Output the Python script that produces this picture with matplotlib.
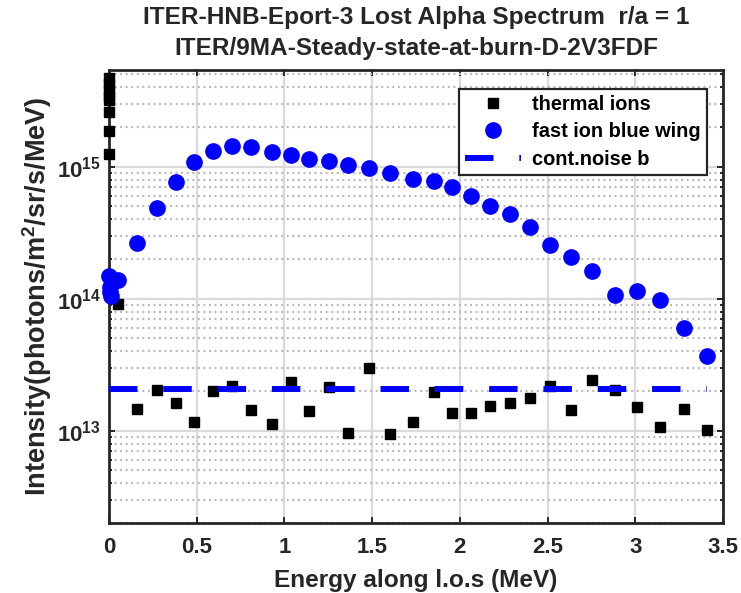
import matplotlib
matplotlib.use("Agg")
import matplotlib.pyplot as plt
from matplotlib.ticker import LogLocator, NullFormatter, FixedLocator, FixedFormatter

# ---------------- data ----------------
energy_grid = [0.053, 0.157, 0.271, 0.381, 0.485, 0.593, 0.701, 0.811, 0.928, 1.036,
               1.142, 1.252, 1.365, 1.483, 1.604, 1.735, 1.851, 1.953, 2.063, 2.174,
               2.284, 2.398, 2.515, 2.631, 2.754, 2.882, 3.011, 3.140, 3.277, 3.411]

thermal_zero_energy = [0, 0, 0, 0, 0, 0, 0, 0]
thermal_zero_vals = [4.70e15, 4.23e15, 3.81e15, 3.43e15, 3.20e15, 2.60e15, 1.86e15, 1.25e15]
thermal_vals = [9.1e13, 1.45e13, 2.03e13, 1.61e13, 1.17e13, 1.99e13, 2.18e13, 1.44e13, 1.12e13, 2.35e13,
                1.40e13, 2.13e13, 9.66e12, 2.97e13, 9.44e12, 1.17e13, 1.95e13, 1.37e13, 1.37e13, 1.55e13,
                1.63e13, 1.77e13, 2.18e13, 1.43e13, 2.42e13, 2.03e13, 1.51e13, 1.06e13, 1.45e13, 1.01e13]

fast_zero_energy = [0.0, 0.003, 0.006, 0.010]
fast_zero_vals = [1.49e14, 1.23e14, 1.12e14, 1.05e14]
fast_vals = [1.39e14, 2.63e14, 4.84e14, 7.62e14, 1.09e15, 1.32e15, 1.44e15, 1.40e15, 1.30e15, 1.22e15,
             1.14e15, 1.11e15, 1.03e15, 9.8e14, 8.9e14, 8.07e14, 7.8e14, 6.98e14, 6.0e14, 5.0e14,
             4.36e14, 3.51e14, 2.56e14, 2.06e14, 1.63e14, 1.07e14, 1.14e14, 9.7e13, 5.97e13, 3.7e13]

noise_energy = [0.0, 3.411]
noise_vals = [2.07e13, 2.07e13]

x_ticks = [0, 0.5, 1, 1.5, 2, 2.5, 3, 3.5]
x_ticklabels = ["0", "0.5", "1", "1.5", "2", "2.5", "3", "3.5"]
y_ticks = [1e13, 1e14, 1e15]
y_ticklabels = [r"$10^{13}$", r"$10^{14}$", r"$10^{15}$"]

title_line1 = "ITER-HNB-Eport-3 Lost Alpha Spectrum  r/a = 1"
title_line2 = "ITER/9MA-Steady-state-at-burn-D-2V3FDF"

# ---------------- style ----------------
plt.rcParams["font.family"] = ["Liberation Sans", "DejaVu Sans"]
plt.rcParams["font.weight"] = "bold"
plt.rcParams["mathtext.fontset"] = "custom"
plt.rcParams["mathtext.rm"] = "Liberation Sans:bold"
plt.rcParams["mathtext.bf"] = "Liberation Sans:bold"
plt.rcParams["mathtext.default"] = "bf"
plt.rcParams["lines.scale_dashes"] = False

DARK = "#262626"

fig = plt.figure(figsize=(7.41, 5.93), dpi=100)
ax = fig.add_axes([0.1471, 0.1180, 0.8286, 0.7639])

thermal_x = thermal_zero_energy + energy_grid
thermal_y = thermal_zero_vals + thermal_vals
fast_x = fast_zero_energy + energy_grid
fast_y = fast_zero_vals + fast_vals

ax.plot(thermal_x, thermal_y, linestyle="none", marker="s", markersize=6.5,
        color="black", label="thermal ions", zorder=3, clip_on=False)
ax.plot(fast_x, fast_y, linestyle="none", marker="o", markersize=11,
        color="#0000ff", markeredgecolor="#0000ff", label="fast ion blue wing", zorder=4,
        clip_on=False)
ax.plot(noise_energy, noise_vals, color="#0000ff", linewidth=4.3,
        dashes=(20.5, 18.6), label="cont.noise b", zorder=5, clip_on=False)

ax.set_yscale("log")
ax.set_xlim(0, 3.5)
ax.set_ylim(2e12, 5.4e15)

ax.xaxis.set_major_locator(FixedLocator(x_ticks))
ax.xaxis.set_major_formatter(FixedFormatter(x_ticklabels))
ax.yaxis.set_major_locator(FixedLocator(y_ticks))
ax.yaxis.set_major_formatter(FixedFormatter(y_ticklabels))
ax.yaxis.set_minor_locator(LogLocator(base=10, subs=[2, 3, 4, 5, 6, 7, 8, 9], numticks=20))
ax.yaxis.set_minor_formatter(NullFormatter())

ax.set_axisbelow(True)
ax.grid(which="major", color="#dadada", linewidth=1.6, linestyle="-")
ax.yaxis.grid(which="minor", color="#b8b8b8", linewidth=1.6, linestyle=(0, (1.4, 2.6)))

ax.tick_params(which="both", direction="in", top=True, right=True, colors=DARK,
               labelsize=16, width=1.4)
ax.tick_params(which="major", length=4)
ax.tick_params(which="minor", length=2.5)
ax.tick_params(axis="x", pad=10)
ax.tick_params(axis="y", pad=6)
for lab in ax.get_xticklabels() + ax.get_yticklabels():
    lab.set_fontweight("bold")

for sp in ax.spines.values():
    sp.set_linewidth(2.0)
    sp.set_color(DARK)

ax.set_xlabel("Energy along l.o.s (MeV)", fontsize=17.6, fontweight="bold", color=DARK, va="center")
ax.xaxis.set_label_coords(0.5, -0.126)
ax.set_ylabel(r"Intensity(photons/m$^2$/sr/s/MeV)", fontsize=19.5, fontweight="bold", color=DARK, va="center")
ax.yaxis.set_label_coords(-0.117, 0.5)

fig.text(0.5614, 0.9713, title_line1, ha="center", va="center", fontsize=17.6,
         fontweight="bold", color=DARK)
fig.text(0.5614, 0.919, title_line2, ha="center", va="center", fontsize=17.6,
         fontweight="bold", color=DARK)

leg = ax.legend(loc="upper right", bbox_to_anchor=(0.974, 0.958), borderaxespad=0,
                fontsize=14.4, handlelength=2.83, handletextpad=0.55, borderpad=0.3,
                labelspacing=0.42, numpoints=1, fancybox=False, framealpha=1,
                edgecolor=DARK)
leg.get_frame().set_linewidth(1.6)
for t in leg.get_texts():
    t.set_fontweight("bold")
    t.set_color("black")

fig.savefig("out.png", dpi=100)
